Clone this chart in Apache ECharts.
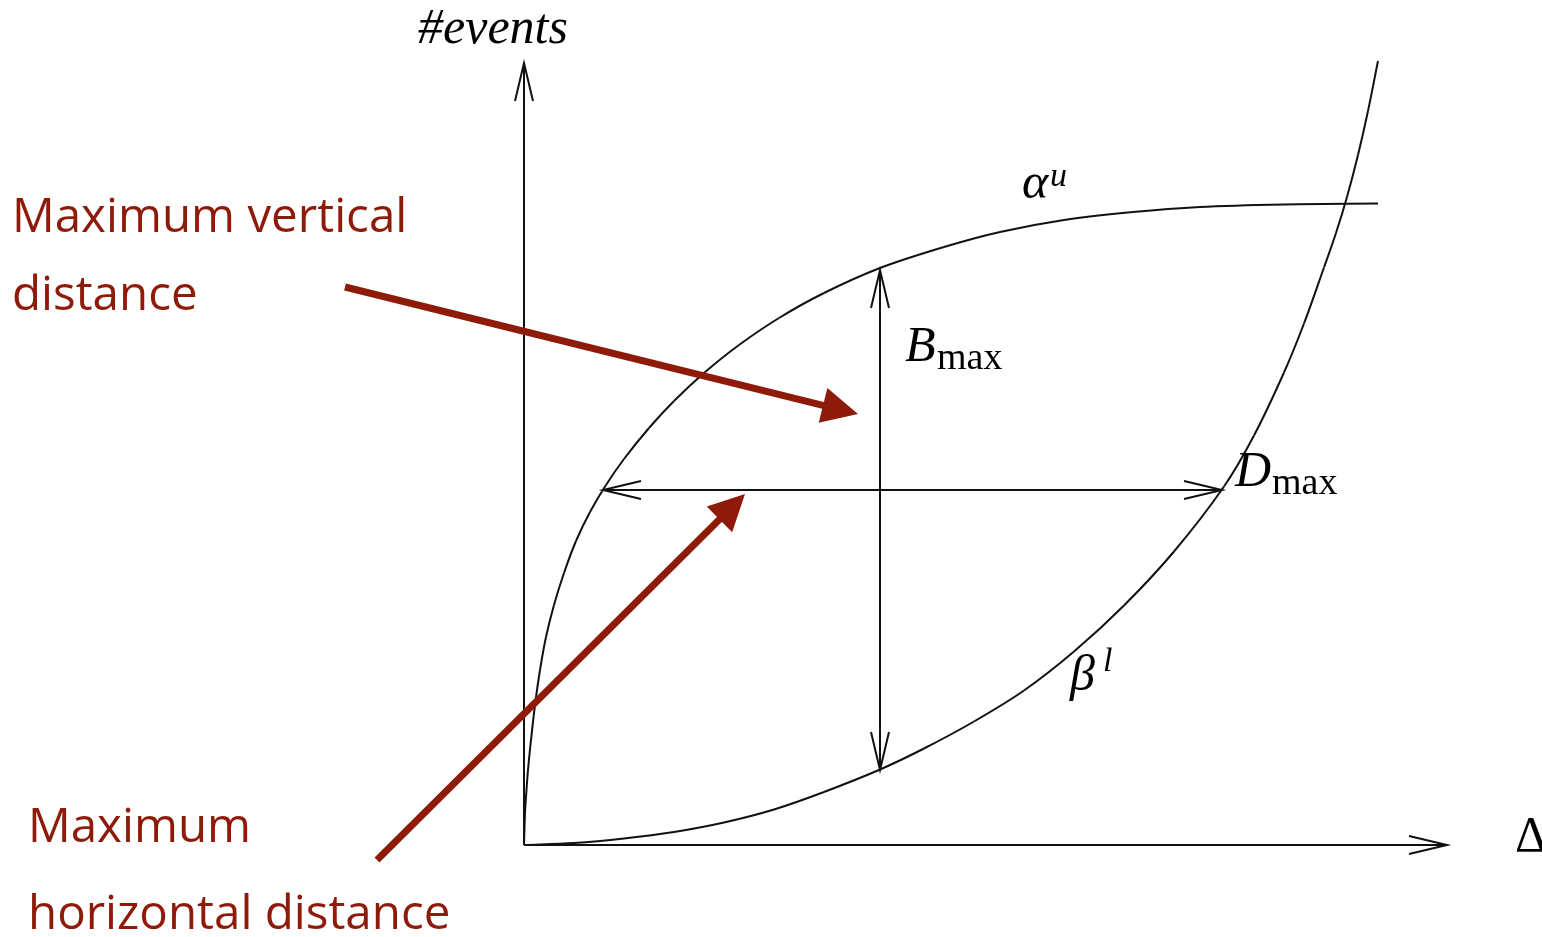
<!DOCTYPE html>
<html lang="en">
<head>
  <meta charset="UTF-8">
  <title>Maximum vertical / horizontal distance</title>
  <script src="https://cdn.jsdelivr.net/npm/echarts@6/dist/echarts.min.js"></script>
  <style>
    html, body { margin: 0; padding: 0; background: #fff; }
    #chart { width: 1542px; height: 937px; }
  </style>
</head>
<body>
<div id="chart"></div>
<script>
  // units: 100px, measured from the axes origin
  // upper curve alpha^u
  var alphaU = [
    [0, 0], [0.01, 0.32], [0.02, 0.48], [0.04, 0.75], [0.07, 1.05], [0.11, 1.40],
    [0.16, 1.75], [0.22, 2.08], [0.30, 2.40], [0.40, 2.72], [0.52, 3.04],
    [0.66, 3.33], [0.82, 3.60], [1.00, 3.86], [1.25, 4.17], [1.50, 4.44],
    [1.80, 4.72], [2.15, 5.00], [2.55, 5.27], [3.00, 5.52], [3.56, 5.77],
    [4.20, 5.98], [4.76, 6.13], [5.40, 6.25], [6.09, 6.33], [6.76, 6.38],
    [7.60, 6.405], [8.54, 6.415]
  ];
  // lower curve beta^l
  var betaL = [
    [0, 0], [0.50, 0.02], [1.00, 0.065], [1.50, 0.13], [2.00, 0.225], [2.50, 0.355],
    [3.00, 0.53], [3.56, 0.755], [4.00, 0.965], [4.50, 1.235], [5.00, 1.545],
    [5.50, 1.935], [6.00, 2.395], [6.50, 2.935], [7.00, 3.585], [7.30, 4.095],
    [7.60, 4.725], [7.80, 5.215], [8.00, 5.775], [8.12, 6.12], [8.23, 6.48],
    [8.34, 6.90], [8.44, 7.34], [8.54, 7.84]
  ];
  // axes and distance arrows: x1, y1, x2, y2, heads (1 = end only, 2 = both ends)
  var blackArrows = [
    [0, 0, 0, 7.82, 1],
    [0, 0, 9.23, 0, 1],
    [3.56, 5.75, 3.56, 0.75, 2],
    [0.79, 3.55, 6.98, 3.55, 2]
  ];
  // annotation arrows: x1, y1, x2, y2
  var redArrows = [
    [-1.79, 5.58, 3.34, 4.31],
    [-1.47, -0.15, 2.21, 3.51]
  ];
  // labels: text, x, y, style
  var labels = [
    ['#events', -1.06, 8.15, 'math'],
    ['α', 4.98, 6.60, 'math'],
    ['u', 5.26, 6.68, 'sup'],
    ['B', 3.81, 4.97, 'math'],
    ['max', 4.13, 4.86, 'sub'],
    ['D', 7.11, 3.72, 'math'],
    ['max', 7.48, 3.61, 'sub'],
    ['β', 5.46, 1.68, 'math'],
    ['l', 5.79, 1.83, 'sup'],
    ['Δ', 9.91, 0.07, 'upright'],
    ['Maximum vertical', -5.12, 6.27, 'note'],
    ['distance', -5.12, 5.49, 'note'],
    ['Maximum', -4.96, 0.17, 'note'],
    ['horizontal distance', -4.96, -0.70, 'note']
  ];

  var red = '#8e1a0a';
  var ink = '#000';
  var styles = {
    math: { fontFamily: 'Liberation Serif', fontStyle: 'italic', fontSize: 50, color: ink },
    sup: { fontFamily: 'Liberation Serif', fontStyle: 'italic', fontSize: 34, color: ink },
    sub: { fontFamily: 'Liberation Serif', fontSize: 38, color: ink },
    upright: { fontFamily: 'Liberation Serif', fontSize: 50, color: ink },
    note: { fontFamily: 'Open Sans', fontSize: 47.5, color: red }
  };

  function unit(a, b) {
    var dx = b[0] - a[0], dy = b[1] - a[1];
    var d = Math.sqrt(dx * dx + dy * dy) || 1;
    return [dx / d, dy / d, d];
  }

  // one bezier piece from point i to i+1, tangents taken from the neighbours
  function renderCurve(params, api) {
    var i = params.dataIndexInside, n = params.dataInsideLength;
    if (i >= n - 1) return null;
    function pt(k) { return api.coord([api.value(0, k), api.value(1, k)]); }
    var p0 = pt(Math.max(i - 1, 0)), p1 = pt(i), p2 = pt(i + 1), p3 = pt(Math.min(i + 2, n - 1));
    var t1 = unit(p0, p2), t2 = unit(p1, p3);
    var L = unit(p1, p2)[2] / 3;
    return {
      type: 'bezierCurve',
      shape: {
        x1: p1[0], y1: p1[1], x2: p2[0], y2: p2[1],
        cpx1: p1[0] + t1[0] * L, cpy1: p1[1] + t1[1] * L,
        cpx2: p2[0] - t2[0] * L, cpy2: p2[1] - t2[1] * L
      },
      style: { stroke: '#111', lineWidth: 2, fill: null }
    };
  }

  function chevron(tip, ux, uy, len, half) {
    var bx = tip[0] - ux * len, by = tip[1] - uy * len;
    return {
      type: 'polyline',
      shape: { points: [[bx - uy * half, by + ux * half], tip, [bx + uy * half, by - ux * half]] },
      style: { stroke: '#111', lineWidth: 2, fill: null }
    };
  }

  function renderBlack(params, api) {
    var a = api.coord([api.value(0), api.value(1)]);
    var b = api.coord([api.value(2), api.value(3)]);
    var u = unit(a, b);
    var kids = [{
      type: 'line',
      shape: { x1: a[0], y1: a[1], x2: b[0], y2: b[1] },
      style: { stroke: '#111', lineWidth: 2 }
    }, chevron(b, u[0], u[1], 38, 9)];
    if (api.value(4) === 2) kids.push(chevron(a, -u[0], -u[1], 38, 9));
    return { type: 'group', children: kids };
  }

  function renderRed(params, api) {
    var a = api.coord([api.value(0), api.value(1)]);
    var b = api.coord([api.value(2), api.value(3)]);
    var u = unit(a, b), ux = u[0], uy = u[1];
    var len = 36, half = 18;
    var bx = b[0] - ux * len, by = b[1] - uy * len;
    return {
      type: 'group',
      children: [{
        type: 'line',
        shape: { x1: a[0], y1: a[1], x2: bx + ux * 2, y2: by + uy * 2 },
        style: { stroke: red, lineWidth: 7 }
      }, {
        type: 'polygon',
        shape: { points: [b, [bx - uy * half, by + ux * half], [bx + uy * half, by - ux * half]] },
        style: { fill: red }
      }]
    };
  }

  var labelData = labels.map(function (l) {
    var s = styles[l[3]];
    return {
      value: [l[1], l[2]],
      label: {
        show: true,
        position: 'right',
        distance: 0,
        formatter: l[0],
        fontFamily: s.fontFamily,
        fontStyle: s.fontStyle || 'normal',
        fontSize: s.fontSize,
        color: s.color,
        opacity: 1
      }
    };
  });

  var chart = echarts.init(document.getElementById('chart'));
  chart.setOption({
    animation: false,
    backgroundColor: '#fff',
    grid: { left: 0, right: 0, top: 0, bottom: 0 },
    xAxis: { type: 'value', min: -5.24, max: 10.18, show: false },
    yAxis: { type: 'value', min: -0.92, max: 8.45, show: false },
    series: [
      {
        type: 'custom', name: 'alpha_u', data: alphaU, renderItem: renderCurve, silent: true, clip: false,
        encode: { x: 0, y: 1 }
      },
      {
        type: 'custom', name: 'beta_l', data: betaL, renderItem: renderCurve, silent: true, clip: false,
        encode: { x: 0, y: 1 }
      },
      {
        type: 'custom', data: blackArrows, renderItem: renderBlack, silent: true, clip: false,
        encode: { x: [0, 2], y: [1, 3] }
      },
      {
        type: 'custom', data: redArrows, renderItem: renderRed, silent: true, clip: false,
        encode: { x: [0, 2], y: [1, 3] }, z: 5
      },
      {
        type: 'scatter', data: labelData, symbolSize: 0, silent: true, clip: false, z: 6,
        itemStyle: { opacity: 1 }
      }
    ]
  });
</script>
</body>
</html>
